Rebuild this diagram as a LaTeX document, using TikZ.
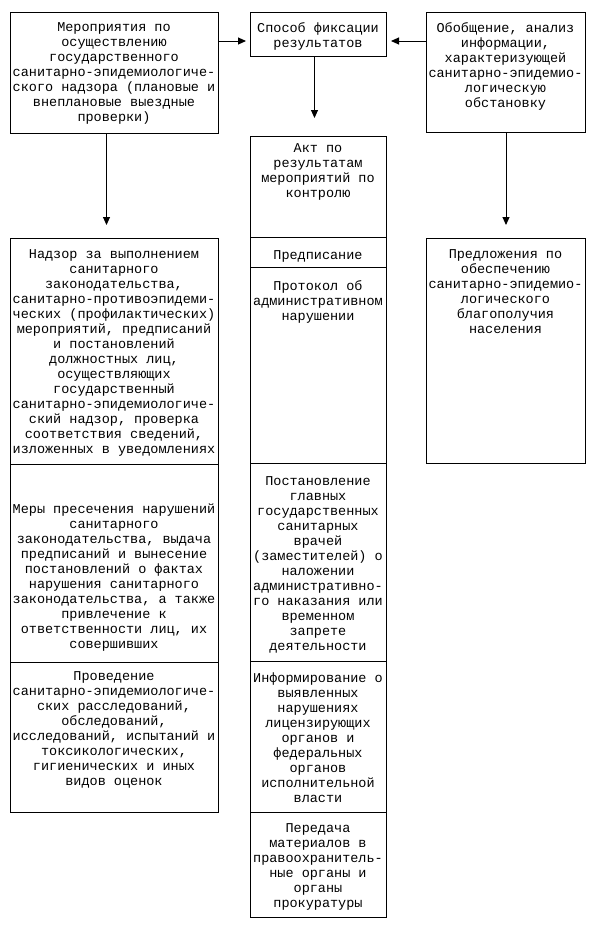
\documentclass[tikz,border=0pt]{standalone}
\usepackage{fontspec}
\setmainfont{Liberation Mono}
\usetikzlibrary{arrows.meta}

\tikzset{
  box/.style={draw, line width=1pt, rectangle, inner sep=0pt, anchor=north west},
  txt/.style={align=center, inner sep=0pt, anchor=north, yshift=4pt,
    font=\fontsize{13.5}{15}\selectfont, execute at begin node=\strut},
  arr/.style={line width=1pt, -{Triangle[length=8pt,width=7pt]}}
}

\begin{document}
\begin{tikzpicture}[x=1pt,y=-1pt]

\useasboundingbox (0,0) rectangle (593,930);

% top row
\node[box, minimum width=208pt, minimum height=121pt] (plan) at (10,12) {};
\node[txt] (plan-t) at (114,26) {Мероприятия по\\осуществлению\\государственного\\санитарно-эпидемиологиче-\\ского надзора (плановые и\\внеплановые выездные\\проверки)};

\node[box, minimum width=136pt, minimum height=44pt] (sposob) at (250,12) {};
\node[txt] (sposob-t) at (318,26) {Способ фиксации\\результатов};

\node[box, minimum width=159pt, minimum height=120pt] (obobsch) at (426,12) {};
\node[txt] (obobsch-t) at (505.5,26) {Обобщение, анализ\\информации,\\характеризующей\\санитарно-эпидемио-\\логическую\\обстановку};

% left column
\node[box, minimum width=208pt, minimum height=226pt] (nadzor) at (10,238) {};
\node[txt] (nadzor-t) at (114,253) {Надзор за выполнением\\санитарного\\законодательства,\\санитарно-противоэпидеми-\\ческих (профилактических)\\мероприятий, предписаний\\и постановлений\\должностных лиц,\\осуществляющих\\государственный\\санитарно-эпидемиологиче-\\ский надзор, проверка\\соответствия сведений,\\изложенных в уведомлениях};

\node[box, minimum width=208pt, minimum height=198pt] (mery) at (10,464) {};
\node[txt] (mery-t) at (114,508) {Меры пресечения нарушений\\санитарного\\законодательства, выдача\\предписаний и вынесение\\постановлений о фактах\\нарушения санитарного\\законодательства, а также\\привлечение к\\ответственности лиц, их\\совершивших};

\node[box, minimum width=208pt, minimum height=150pt] (proved) at (10,662) {};
\node[txt] (proved-t) at (114,675) {Проведение\\санитарно-эпидемиологиче-\\ских расследований,\\обследований,\\исследований, испытаний и\\токсикологических,\\гигиенических и иных\\видов оценок};

% middle column
\node[box, minimum width=136pt, minimum height=101pt] (akt) at (250,136) {};
\node[txt] (akt-t) at (318,147) {Акт по\\результатам\\мероприятий по\\контролю};

\node[box, minimum width=136pt, minimum height=30pt] (predp) at (250,237) {};
\node[txt] (predp-t) at (318,253) {Предписание};

\node[box, minimum width=136pt, minimum height=196pt] (protokol) at (250,267) {};
\node[txt] (protokol-t) at (318,284) {Протокол об\\административном\\нарушении};

\node[box, minimum width=136pt, minimum height=198pt] (postan) at (250,463) {};
\node[txt] (postan-t) at (318,480) {Постановление\\главных\\государственных\\санитарных\\врачей\\(заместителей) о\\наложении\\административно-\\го наказания или\\временном\\запрете\\деятельности};

\node[box, minimum width=136pt, minimum height=151pt] (inform) at (250,661) {};
\node[txt] (inform-t) at (318,677) {Информирование о\\выявленных\\нарушениях\\лицензирующих\\органов и\\федеральных\\органов\\исполнительной\\власти};

\node[box, minimum width=136pt, minimum height=105pt] (peredacha) at (250,812) {};
\node[txt] (peredacha-t) at (318,827) {Передача\\материалов в\\правоохранитель-\\ные органы и\\органы\\прокуратуры};

% right column
\node[box, minimum width=159pt, minimum height=225pt] (predlozh) at (426,238) {};
\node[txt] (predlozh-t) at (505.5,253) {Предложения по\\обеспечению\\санитарно-эпидемио-\\логического\\благополучия\\населения};

% arrows
\draw[arr, shorten >=4pt] ([yshift=-29pt]plan.north east) -- ([yshift=-29pt]sposob.north west);
\draw[arr, shorten >=4pt] ([yshift=-29pt]obobsch.north west) -- ([yshift=-29pt]sposob.north east);
\draw[arr, shorten >=18pt] ([xshift=-4pt]sposob.south) -- ([xshift=-4pt]sposob.south |- akt.north);
\draw[arr, shorten >=13pt] ([xshift=-8pt]plan.south) -- ([xshift=-8pt]plan.south |- nadzor.north);
\draw[arr, shorten >=13pt] (obobsch.south) -- (obobsch.south |- predlozh.north);

\end{tikzpicture}
\end{document}
